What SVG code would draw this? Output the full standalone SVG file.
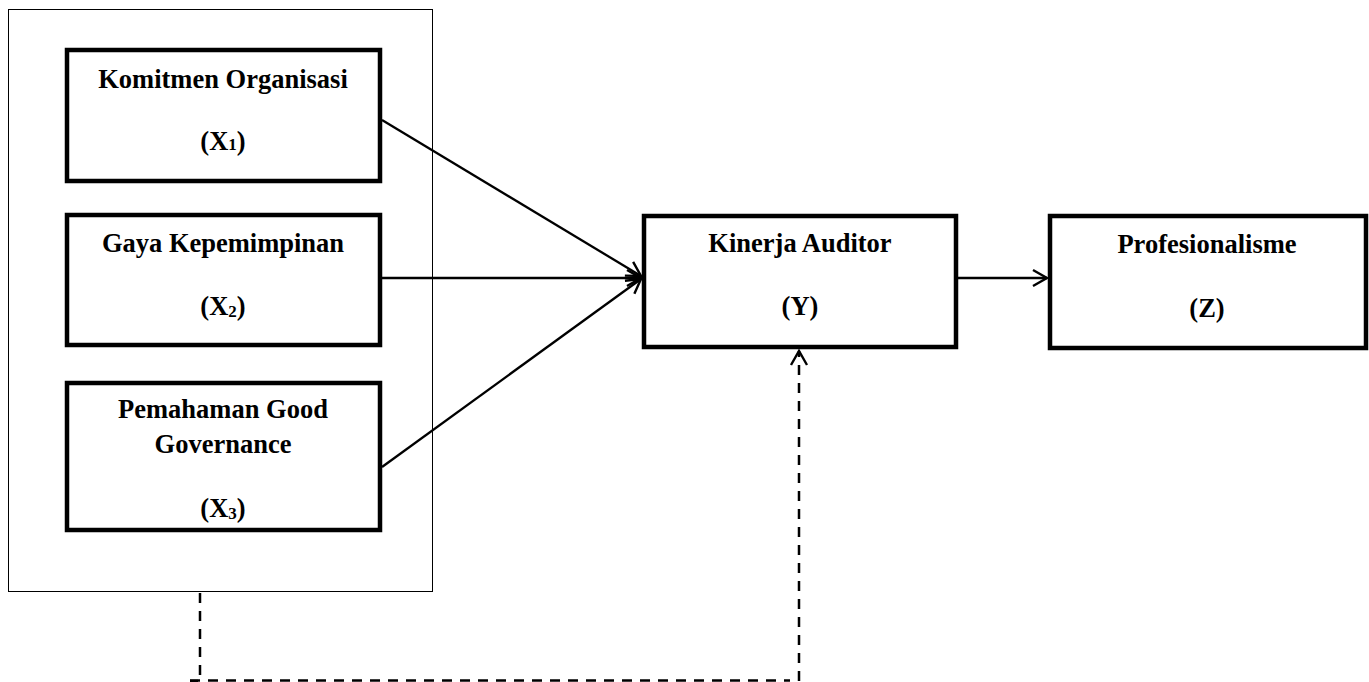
<svg xmlns="http://www.w3.org/2000/svg" width="1369" height="682" viewBox="0 0 1369 682">
<style>
.box{fill:#fff;stroke:#000;stroke-width:4.5}
.outer{fill:none;stroke:#000;stroke-width:1}
.t{font-family:"Liberation Serif","Times New Roman",serif;font-weight:bold;font-size:26.5px;fill:#000;text-anchor:middle}
.sub{font-size:17px}
.ln{fill:none;stroke:#000;stroke-width:2.3}
.dash{fill:none;stroke:#000;stroke-width:2.5;stroke-dasharray:10 8}
</style>
<defs>
<marker id="arr" markerUnits="userSpaceOnUse" markerWidth="20" markerHeight="20" viewBox="-16 -10 20 20" refX="0" refY="0" orient="auto">
<path d="M-14,-8 L0,0 L-14,8" fill="none" stroke="#000" stroke-width="2.4"/>
</marker>
</defs>
<rect width="1369" height="682" fill="#fff"/>
<g id="group-x">
<rect class="outer" x="8.5" y="9.5" width="424" height="582"/>
</g>
<g id="x1">
<rect class="box" x="67" y="50" width="313" height="131"/>
<text class="t" x="223" y="88">Komitmen Organisasi</text>
<text class="t" x="223" y="150">(X<tspan class="sub">1</tspan>)</text>
</g>
<g id="x2">
<rect class="box" x="67" y="215" width="313" height="130"/>
<text class="t" x="223" y="252">Gaya Kepemimpinan</text>
<text class="t" x="223" y="315">(X<tspan class="sub" dy="2">2</tspan><tspan dy="-2">)</tspan></text>
</g>
<g id="x3">
<rect class="box" x="67" y="383" width="313" height="147"/>
<text class="t" x="223" y="418">Pemahaman Good</text>
<text class="t" x="223" y="453">Governance</text>
<text class="t" x="223" y="517">(X<tspan class="sub" dy="2">3</tspan><tspan dy="-2">)</tspan></text>
</g>
<g id="y">
<rect class="box" x="644" y="216" width="312" height="131"/>
<text class="t" x="800" y="252">Kinerja Auditor</text>
<text class="t" x="800" y="315">(Y)</text>
</g>
<g id="z">
<rect class="box" x="1050" y="216" width="316" height="132"/>
<text class="t" x="1207" y="253">Profesionalisme</text>
<text class="t" x="1207" y="317">(Z)</text>
</g>
<g id="connectors">
<line class="ln" x1="382" y1="120" x2="641" y2="276" marker-end="url(#arr)"/>
<line class="ln" x1="382" y1="278" x2="641" y2="278" marker-end="url(#arr)"/>
<line class="ln" x1="382" y1="467" x2="641" y2="279" marker-end="url(#arr)"/>
<line class="ln" x1="958" y1="278" x2="1047" y2="278" marker-end="url(#arr)"/>
<polyline class="dash" points="200,593 200,681 190,681"/>
<line class="dash" x1="190" y1="680.5" x2="790" y2="680.5"/>
<line class="dash" x1="799" y1="681" x2="799" y2="351" marker-end="url(#arr)"/>
</g>
</svg>
